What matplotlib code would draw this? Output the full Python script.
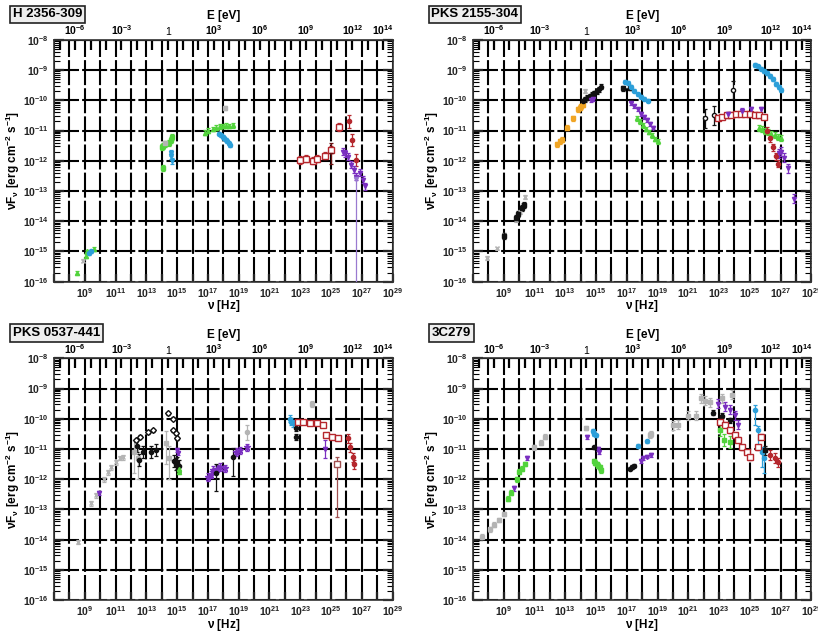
import numpy as np
import matplotlib
matplotlib.use("Agg")
import matplotlib.pyplot as plt
from matplotlib.ticker import FixedLocator, NullFormatter, LogLocator

plt.rcParams['font.family'] = ['Liberation Sans', 'DejaVu Sans']
plt.rcParams['mathtext.fontset'] = 'custom'
plt.rcParams['mathtext.rm'] = 'Liberation Sans:bold'
plt.rcParams['mathtext.bf'] = 'Liberation Sans:bold'
plt.rcParams['mathtext.default'] = 'bf'

H_EV = 4.1357e-15  # Planck constant [eV s]

RED = '#b5272d'
PURPLE = '#7a2fc0'
BLUE = '#2c9fd9'
GREEN = '#52d33c'
ORANGE = '#f0a524'
GREY = '#b4b4b4'
BLACK = '#111111'

# ---- H 2356-309 (log10 nu [Hz], log10 nuFnu [erg cm^-2 s^-1]) ----
h_radio_green_nu = [8.5, 9.05, 9.15, 9.6]
h_radio_green_f = [-15.7, -15.15, -15.0, -14.92]
h_radio_blue_nu = [9.3, 9.4]
h_radio_blue_f = [-15.05, -15.0]
h_radio_grey_nu = [8.9]
h_radio_grey_f = [-15.3]
h_opt_green_nu = [14.0, 14.1, 14.2, 14.45, 14.6, 14.65, 14.05]
h_opt_green_f = [-11.55, -11.5, -11.45, -11.4, -11.3, -11.2, -12.25]
h_opt_grey_nu = [14.2]
h_opt_grey_f = [-11.4]
h_opt_blue_nu = [14.6, 14.63, 14.66]
h_opt_blue_f = [-11.75, -11.85, -12.0]
h_x_green_nu = [16.8, 17.0, 17.3, 17.55, 17.8, 18.0, 18.2, 18.4, 18.6]
h_x_green_f = [-11.07, -11.0, -10.95, -10.9, -10.86, -10.85, -10.84, -10.85, -10.83]
h_x_grey_nu = [18.1]
h_x_grey_f = [-10.25]
h_x_blue_nu = [17.75, 17.85, 17.95, 18.05, 18.15, 18.25, 18.35, 18.45]
h_x_blue_f = [-11.1, -11.15, -11.2, -11.25, -11.3, -11.35, -11.42, -11.48]
h_lat_red_nu = [22.96, 23.4, 23.8, 24.1, 24.6, 25.0, 25.5]
h_lat_red_f = [-11.97, -11.93, -12.0, -11.93, -11.83, -11.63, -10.88]
h_lat_bar_nu = [25.0]
h_lat_bar_f = [-11.75]
h_tev_red_nu = [26.15, 26.35, 26.65]
h_tev_red_f = [-10.7, -11.3, -11.97]
h_tev_purple_nu = [25.75, 25.9, 26.1, 26.3, 26.47, 26.65, 26.85, 27.05, 27.18]
h_tev_purple_f = [-11.7, -11.75, -11.87, -12.13, -12.3, -12.53, -12.4, -12.63, -12.85]
h_tev_purple_low_nu = [26.65]
h_tev_purple_low_f = [-12.6]

# ---- PKS 2155-304 ----
p_radio_grey_nu = [7.95, 8.6, 9.0, 9.8, 10.06, 10.26, 10.4]
p_radio_grey_f = [-15.22, -14.9, -14.45, -13.95, -13.7, -13.45, -13.2]
p_radio_black_nu = [9.05, 9.8, 9.95, 10.2, 10.3]
p_radio_black_f = [-14.5, -13.9, -13.75, -13.55, -13.45]
p_opt_orange_nu = [12.5, 12.65, 12.8, 13.1, 13.5, 13.85, 13.95, 14.05, 14.15]
p_opt_orange_f = [-11.45, -11.35, -11.3, -10.9, -10.6, -10.3, -10.25, -10.2, -10.15]
p_opt_black_nu = [14.15, 14.3, 14.45, 14.6, 14.75, 14.9, 15.05, 15.2, 15.35]
p_opt_black_f = [-10.02, -9.97, -9.92, -9.87, -9.82, -9.77, -9.7, -9.63, -9.55]
p_opt_purple_nu = [14.7, 14.8]
p_opt_purple_f = [-10.0, -9.95]
p_opt_grey_nu = [14.3]
p_opt_grey_f = [-9.7]
p_x_black_nu = [16.75, 17.2]
p_x_black_f = [-9.6, -9.58]
p_x_blue_nu = [16.9, 17.1, 17.3, 17.5, 17.7, 17.9, 18.1, 18.35]
p_x_blue_f = [-9.38, -9.42, -9.55, -9.68, -9.8, -9.88, -9.95, -10.02]
p_x_purple_nu = [17.3, 17.5, 17.7, 17.9, 18.1, 18.3, 18.5, 18.7]
p_x_purple_f = [-10.1, -10.2, -10.3, -10.45, -10.55, -10.65, -10.78, -10.9]
p_x_green_nu = [17.65, 17.85, 18.05, 18.25, 18.45, 18.65, 18.85, 19.0]
p_x_green_f = [-10.6, -10.7, -10.82, -10.95, -11.05, -11.15, -11.28, -11.35]
p_lat_black_nu = [22.1, 22.7]
p_lat_black_f = [-10.6, -10.5]
p_lat_red_nu = [22.95, 23.2, 23.5, 23.8, 24.1, 24.4, 24.7, 25.0, 25.3, 25.6, 25.9]
p_lat_red_f = [-10.57, -10.55, -10.5, -10.48, -10.45, -10.45, -10.45, -10.45, -10.47, -10.5, -10.55]
p_lat_purple_nu = [23.6, 24.5, 25.1, 25.7]
p_lat_purple_f = [-10.45, -10.35, -10.3, -10.3]
p_lat_grey_nu = [23.9]
p_lat_grey_f = [-9.65]
p_tev_blue_nu = [25.35, 25.5, 25.7, 25.9, 26.1, 26.3, 26.5, 26.7, 26.9, 27.0]
p_tev_blue_f = [-8.83, -8.88, -8.95, -9.02, -9.1, -9.2, -9.3, -9.45, -9.55, -9.65]
p_tev_green_nu = [25.6, 25.8, 26.0, 26.2, 26.4, 26.6, 26.8, 27.0]
p_tev_green_f = [-10.9, -10.95, -11.0, -11.05, -11.1, -11.15, -11.2, -11.25]
p_tev_red_nu = [26.1, 26.3, 26.5, 26.7, 26.85]
p_tev_red_f = [-11.0, -11.25, -11.55, -11.85, -12.1]
p_tev_purple_nu = [26.9, 27.05, 27.2, 27.5, 27.85]
p_tev_purple_f = [-11.75, -11.7, -11.9, -12.25, -13.25]

# ---- PKS 0537-441 ----
q_radio_grey_nu = [8.55, 9.4, 9.72, 10.24, 10.5, 10.7, 11.0, 11.3, 11.5]
q_radio_grey_f = [-14.08, -12.8, -12.53, -12.0, -11.77, -11.6, -11.44, -11.3, -11.28]
q_radio_purple_nu = [9.9]
q_radio_purple_f = [-12.46]
q_mm_open_nu = [12.3, 12.6, 13.1, 13.4, 14.4, 14.75, 14.7, 14.9, 15.0]
q_mm_open_f = [-10.72, -10.6, -10.45, -10.38, -9.82, -10.0, -10.38, -10.48, -10.65]
q_mm_black_nu = [12.4, 12.5, 12.8, 13.3, 13.6, 14.8, 14.9, 15.0, 15.1]
q_mm_black_f = [-10.9, -11.37, -11.1, -11.1, -11.04, -11.4, -11.5, -11.45, -11.55]
q_mm_grey_nu = [12.2, 12.45, 14.25, 14.5]
q_mm_grey_f = [-11.1, -11.3, -10.8, -11.3]
q_opt_purple_nu = [15.0, 15.05]
q_opt_purple_f = [-11.05, -11.15]
q_opt_green_nu = [15.1, 15.15]
q_opt_green_f = [-11.65, -11.75]
q_x_purple_nu = [17.0, 17.2, 17.36, 17.6, 17.8, 18.1, 18.8, 19.1, 19.55]
q_x_purple_f = [-11.93, -11.85, -11.7, -11.65, -11.6, -11.64, -11.1, -11.05, -10.95]
q_x_black_nu = [17.5, 18.65]
q_x_black_f = [-11.8, -11.28]
q_x_grey_nu = [19.55]
q_x_grey_f = [-10.45]
q_lat_blue_nu = [22.3, 22.4, 22.5]
q_lat_blue_f = [-10.0, -10.1, -10.15]
q_lat_black_nu = [22.7, 22.7]
q_lat_black_f = [-10.3, -10.6]
q_lat_red_nu = [22.86, 23.2, 23.6, 24.1, 24.5, 24.7, 25.05, 25.45]
q_lat_red_f = [-10.12, -10.12, -10.15, -10.15, -10.2, -10.55, -10.6, -10.65]
q_lat_red_low_nu = [25.4]
q_lat_red_low_f = [-11.5]
q_tev_red_nu = [26.1, 26.2, 26.4, 26.5]
q_tev_red_f = [-10.65, -10.95, -11.28, -11.5]
q_lat_purple_nu = [24.6]
q_lat_purple_f = [-11.0]
q_lat_grey_nu = [23.76]
q_lat_grey_f = [-9.5]

# ---- 3C279 ----
r_radio_grey_nu = [7.6, 8.1, 8.4, 8.7, 9.0, 10.95, 11.4, 11.7]
r_radio_grey_f = [-13.9, -13.66, -13.5, -13.35, -13.15, -10.95, -10.8, -10.6]
r_radio_green_nu = [9.3, 9.5, 9.85, 10.0, 10.2, 10.4]
r_radio_green_f = [-12.65, -12.45, -12.0, -11.75, -11.65, -11.5]
r_radio_purple_nu = [9.65, 10.5]
r_radio_purple_f = [-12.3, -11.3]
r_opt_grey_nu = [14.35]
r_opt_grey_f = [-10.3]
r_opt_blue_nu = [14.8, 14.9, 15.0]
r_opt_blue_f = [-10.4, -10.5, -10.55]
r_opt_purple_nu = [14.45, 15.15, 15.2]
r_opt_purple_f = [-10.6, -11.0, -11.1]
r_opt_black_nu = [14.9]
r_opt_black_f = [-10.95]
r_opt_green_nu = [14.85, 14.95, 15.05, 15.15, 15.25, 15.3]
r_opt_green_f = [-11.4, -11.45, -11.5, -11.55, -11.6, -11.7]
r_x_black_nu = [17.2, 17.35, 17.5]
r_x_black_f = [-11.65, -11.6, -11.55]
r_x_purple_nu = [17.9, 18.05, 18.3, 18.6]
r_x_purple_f = [-11.4, -11.3, -11.25, -11.2]
r_x_blue_nu = [17.75, 18.3]
r_x_blue_f = [-10.9, -10.75]
r_x_grey_nu = [18.5, 18.6]
r_x_grey_f = [-10.55, -10.5]
r_g_grey_nu = [20.0, 20.3, 21.0, 21.5, 21.8, 22.1, 22.4, 23.2, 23.85]
r_g_grey_f = [-10.22, -10.2, -9.9, -9.9, -9.33, -9.4, -9.46, -9.33, -9.2]
r_lat_purple_nu = [22.9, 23.4, 23.7, 24.05, 24.2]
r_lat_purple_f = [-9.5, -9.6, -9.7, -9.88, -10.2]
r_lat_black_nu = [22.6, 23.2, 23.7]
r_lat_black_f = [-9.8, -9.9, -10.05]
r_lat_red_nu = [23.05, 23.4, 23.7, 24.05, 24.2, 24.5, 24.8, 25.0, 25.55, 25.7]
r_lat_red_f = [-10.1, -10.2, -10.38, -10.55, -10.7, -10.95, -11.1, -11.28, -10.95, -10.6]
r_lat_green_nu = [23.05, 23.3, 23.7]
r_lat_green_f = [-10.38, -10.7, -10.76]
r_tev_blue_nu = [25.35, 25.55, 25.8, 25.9]
r_tev_blue_f = [-9.7, -10.38, -11.1, -11.3]
r_tev_black_nu = [26.0]
r_tev_black_f = [-11.04]
r_tev_red_nu = [26.3, 26.66, 26.8]
r_tev_red_f = [-11.2, -11.3, -11.44]


def pts(ax, lnu, lf, color, marker='o', ms=3, err=0.06, lo=None, mfc=None, lw=0.9):
    nu = 10.0 ** np.asarray(lnu)
    f = 10.0 ** np.asarray(lf)
    dlo = err if lo is None else lo
    yerr = [f - f * 10.0 ** (-dlo), f * 10.0 ** err - f]
    ax.errorbar(nu, f, yerr=yerr, fmt=marker, ms=ms, color=color,
                mfc=color if mfc is None else mfc, mec=color, ecolor=color,
                elinewidth=lw, capsize=1.2, capthick=lw, zorder=5)


def setup(ax, name):
    ax.set_xscale('log')
    ax.set_yscale('log')
    ax.set_xlim(1e7, 1e29)
    ax.set_ylim(1e-16, 1e-8)
    ax.set_xticks(10.0 ** np.arange(7, 30))
    ax.set_xticklabels(['$10^{%d}$' % e if (e % 2 == 1 and e >= 9) else ''
                        for e in range(7, 30)])
    ax.xaxis.set_minor_locator(FixedLocator([]))
    ax.set_yticks(10.0 ** np.arange(-16, -7))
    ax.set_yticklabels(['$10^{%d}$' % e for e in range(-16, -7)])
    ax.yaxis.set_minor_locator(LogLocator(base=10, subs=np.arange(2, 10), numticks=20))
    ax.yaxis.set_minor_formatter(NullFormatter())
    ax.tick_params(axis='x', which='major', direction='in', length=6, width=1.6,
                   labelsize=7.5, top=False, pad=3, colors='#222222')
    ax.tick_params(axis='y', which='major', direction='in', length=7, width=1.6,
                   labelsize=7.5, right=True, colors='#222222')
    ax.tick_params(axis='y', which='minor', direction='in', length=4, width=0.8, right=True)
    ax.grid(which='major', color='k', lw=1.5, ls=(0, (12, 1.5)))
    ax.set_axisbelow(True)
    for s in ax.spines.values():
        s.set_linewidth(1.2)
        s.set_color('#333333')
    ax.set_xlabel(r'$\nu$ [Hz]', fontsize=8.5, fontweight='bold', labelpad=-1)
    ax.set_ylabel(r'$\nu$F$_\nu$ [erg cm$^{-2}$ s$^{-1}$]', fontsize=8.5,
                  fontweight='bold', labelpad=1)

    top = ax.secondary_xaxis('top', functions=(lambda x: x * H_EV, lambda e: e / H_EV))
    e_ticks = [1e-6, 1e-3, 1, 1e3, 1e6, 1e9, 1e12, 1e14]
    top.set_xticks(e_ticks)
    top.set_xticklabels(['$10^{-6}$', '$10^{-3}$', '1', '$10^{3}$', '$10^{6}$',
                         '$10^{9}$', '$10^{12}$', '$10^{14}$'])
    top.xaxis.set_minor_locator(FixedLocator(10.0 ** np.arange(-7, 15)))
    top.xaxis.set_minor_formatter(NullFormatter())
    top.tick_params(which='major', direction='in', length=7, width=1.6, labelsize=7.5, pad=2)
    top.tick_params(which='minor', direction='in', length=7, width=1.6)
    top.set_xlabel('E [eV]', fontsize=8.5, fontweight='bold', labelpad=3)

    ax.text(-0.122, 1.105, name, transform=ax.transAxes, fontsize=9.5,
            fontweight='bold', ha='left', va='center',
            bbox=dict(boxstyle='square,pad=0.22', fc='#eeeeee', ec='#222222', lw=1.2))


fig = plt.figure(figsize=(8.18, 6.33), dpi=100)
axw, axh = 0.414, 0.382
ax1 = fig.add_axes([0.066, 0.555, axw, axh])
ax2 = fig.add_axes([0.578, 0.555, axw, axh])
ax3 = fig.add_axes([0.066, 0.052, axw, axh])
ax4 = fig.add_axes([0.578, 0.052, axw, axh])

# H 2356-309
setup(ax1, 'H 2356-309')
pts(ax1, h_radio_green_nu, h_radio_green_f, GREEN, '^')
pts(ax1, h_radio_blue_nu, h_radio_blue_f, BLUE, 'o')
pts(ax1, h_radio_grey_nu, h_radio_grey_f, GREY, 'x')
pts(ax1, h_opt_green_nu, h_opt_green_f, GREEN, 's', err=0.1)
pts(ax1, h_opt_grey_nu, h_opt_grey_f, GREY, 's')
pts(ax1, h_opt_blue_nu, h_opt_blue_f, BLUE, 'v', err=0.1)
pts(ax1, h_x_green_nu, h_x_green_f, GREEN, '^', err=0.08)
pts(ax1, h_x_grey_nu, h_x_grey_f, GREY, 's')
pts(ax1, h_x_blue_nu, h_x_blue_f, BLUE, 'o', err=0.05)
pts(ax1, h_lat_red_nu, h_lat_red_f, RED, 's', ms=4, err=0.12, mfc='white')
pts(ax1, h_lat_bar_nu, h_lat_bar_f, '#6a1010', '_', err=0.35)
pts(ax1, h_tev_red_nu, h_tev_red_f, RED, 'o', err=0.2)
pts(ax1, h_tev_purple_nu, h_tev_purple_f, PURPLE, 'v', err=0.12)
pts(ax1, h_tev_purple_low_nu, h_tev_purple_low_f, '#9a7ad0', 'v', err=0.1, lo=4.0)

# PKS 2155-304
setup(ax2, 'PKS 2155-304')
pts(ax2, p_radio_grey_nu, p_radio_grey_f, GREY, 'x')
pts(ax2, p_radio_black_nu, p_radio_black_f, BLACK, 's', err=0.1)
pts(ax2, p_opt_orange_nu, p_opt_orange_f, ORANGE, 's', err=0.08)
pts(ax2, p_opt_black_nu, p_opt_black_f, BLACK, 'o', err=0.08)
pts(ax2, p_opt_purple_nu, p_opt_purple_f, PURPLE, 'v')
pts(ax2, p_opt_grey_nu, p_opt_grey_f, GREY, 'x')
pts(ax2, p_x_black_nu, p_x_black_f, BLACK, 's', err=0.08)
pts(ax2, p_x_blue_nu, p_x_blue_f, BLUE, 'o', err=0.05)
pts(ax2, p_x_purple_nu, p_x_purple_f, PURPLE, 'v', err=0.06)
pts(ax2, p_x_green_nu, p_x_green_f, GREEN, '^', err=0.08)
pts(ax2, p_lat_black_nu, p_lat_black_f, BLACK, 'o', err=0.3, mfc='white')
pts(ax2, p_lat_red_nu, p_lat_red_f, RED, 's', ms=4, err=0.08, mfc='white')
pts(ax2, p_lat_purple_nu, p_lat_purple_f, PURPLE, 'v', err=0.08)
pts(ax2, p_lat_grey_nu, p_lat_grey_f, BLACK, 'o', err=0.3, mfc='white')
pts(ax2, p_tev_blue_nu, p_tev_blue_f, BLUE, 'o', err=0.06)
pts(ax2, p_tev_green_nu, p_tev_green_f, GREEN, '^', err=0.1)
pts(ax2, p_tev_red_nu, p_tev_red_f, RED, 'o', err=0.12)
pts(ax2, p_tev_purple_nu, p_tev_purple_f, PURPLE, 'v', err=0.15)

# PKS 0537-441
setup(ax3, 'PKS 0537-441')
pts(ax3, q_radio_grey_nu, q_radio_grey_f, GREY, 'x', err=0.08)
pts(ax3, q_radio_purple_nu, q_radio_purple_f, PURPLE, 'v')
pts(ax3, q_mm_grey_nu, q_mm_grey_f, GREY, 's', err=0.4, lo=0.7)
pts(ax3, q_mm_open_nu, q_mm_open_f, BLACK, 'D', ms=3, err=0.05, mfc='white')
pts(ax3, q_mm_black_nu, q_mm_black_f, BLACK, 'o', err=0.2)
pts(ax3, q_opt_purple_nu, q_opt_purple_f, PURPLE, 'v')
pts(ax3, q_opt_green_nu, q_opt_green_f, GREEN, '^')
pts(ax3, q_x_purple_nu, q_x_purple_f, PURPLE, '*', ms=5, err=0.12)
pts(ax3, q_x_black_nu, q_x_black_f, BLACK, 'o', err=0.3, lo=0.6)
pts(ax3, q_x_grey_nu, q_x_grey_f, GREY, 'o', err=0.25)
pts(ax3, q_lat_blue_nu, q_lat_blue_f, BLUE, 'o', err=0.12)
pts(ax3, q_lat_black_nu, q_lat_black_f, BLACK, 'o', err=0.1)
pts(ax3, q_lat_red_nu, q_lat_red_f, RED, 's', ms=4, err=0.06, mfc='white')
pts(ax3, q_lat_red_low_nu, q_lat_red_low_f, '#a05050', 's', ms=4, err=0.25, lo=1.75, mfc='white')
pts(ax3, q_tev_red_nu, q_tev_red_f, RED, 'o', err=0.15)
pts(ax3, q_lat_purple_nu, q_lat_purple_f, PURPLE, 'v', err=0.3)
pts(ax3, q_lat_grey_nu, q_lat_grey_f, GREY, 's', err=0.1)

# 3C279
setup(ax4, '3C279')
pts(ax4, r_radio_grey_nu, r_radio_grey_f, GREY, 's', err=0.08)
pts(ax4, r_radio_green_nu, r_radio_green_f, GREEN, 's', err=0.08)
pts(ax4, r_radio_purple_nu, r_radio_purple_f, PURPLE, 'v', err=0.08)
pts(ax4, r_opt_grey_nu, r_opt_grey_f, GREY, 's')
pts(ax4, r_opt_blue_nu, r_opt_blue_f, BLUE, 'o')
pts(ax4, r_opt_purple_nu, r_opt_purple_f, PURPLE, 'v')
pts(ax4, r_opt_black_nu, r_opt_black_f, BLACK, 'o')
pts(ax4, r_opt_green_nu, r_opt_green_f, GREEN, 's', err=0.08)
pts(ax4, r_x_black_nu, r_x_black_f, BLACK, 'o')
pts(ax4, r_x_purple_nu, r_x_purple_f, PURPLE, 'v')
pts(ax4, r_x_blue_nu, r_x_blue_f, BLUE, 'o')
pts(ax4, r_x_grey_nu, r_x_grey_f, GREY, 's', err=0.1)
pts(ax4, r_g_grey_nu, r_g_grey_f, GREY, 's', err=0.15)
pts(ax4, r_lat_purple_nu, r_lat_purple_f, PURPLE, 'v', err=0.15)
pts(ax4, r_lat_black_nu, r_lat_black_f, BLACK, 'o', err=0.08)
pts(ax4, r_lat_red_nu, r_lat_red_f, RED, 's', ms=4, err=0.08, mfc='white')
pts(ax4, r_lat_green_nu, r_lat_green_f, GREEN, 's', err=0.2)
pts(ax4, r_tev_blue_nu, r_tev_blue_f, BLUE, 'o', err=0.15, lo=0.5)
pts(ax4, r_tev_black_nu, r_tev_black_f, BLACK, 's', err=0.15)
pts(ax4, r_tev_red_nu, r_tev_red_f, RED, 'o', err=0.15)

fig.savefig('out.png', dpi=100)
